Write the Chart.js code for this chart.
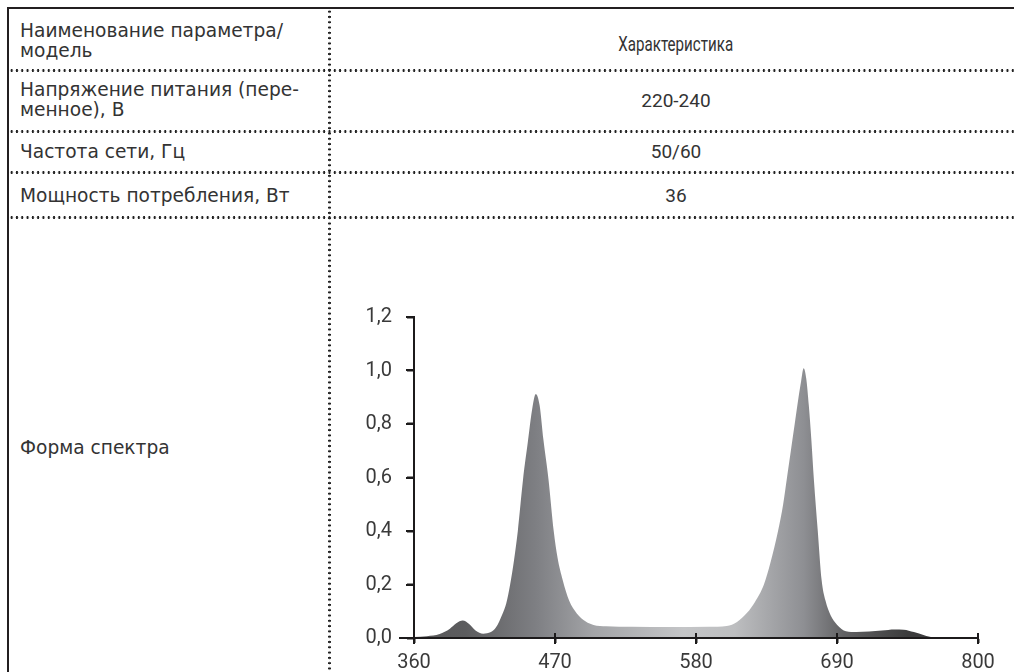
<!DOCTYPE html>
<html lang="ru">
<head>
<meta charset="utf-8">
<title>Форма спектра</title>
<script src="https://cdn.jsdelivr.net/npm/chart.js@4/dist/chart.umd.min.js"></script>
<style>
  html, body { margin: 0; padding: 0; background: #fff; }
  body { width: 1014px; height: 672px; position: relative; overflow: hidden;
         font-family: "DejaVu Sans", Roboto, sans-serif; color: #333; }
  .frame-top { position: absolute; left: 7px; top: 7px; width: 1007px; height: 2px; background: #231f20; }
  .frame-left { position: absolute; left: 7px; top: 7px; width: 2px; height: 665px; background: #231f20; }
  .hdot { position: absolute; left: 9px; width: 1005px; height: 3px;
          background-image: radial-gradient(circle, #222 1.1px, transparent 1.4px);
          background-size: 5.3px 3px; }
  .vdot { position: absolute; left: 328px; top: 9px; width: 3px; height: 663px;
          background-image: radial-gradient(circle, #222 1.1px, transparent 1.4px);
          background-size: 3px 5.3px; }
  .cell { position: absolute; font-size: 18.6px; line-height: 20px; white-space: nowrap; }
  .left { left: 20px; }
  .val { left: 331px; width: 690px; text-align: center; font-family: Roboto, sans-serif; font-size: 19px; }
  .narrow { display: inline-block; font-size: 21px; transform: scaleX(0.72); }
  #chartBox { position: absolute; left: 330px; top: 280px; width: 684px; height: 392px; }
</style>
</head>
<body>
<div class="frame-top"></div>
<div class="frame-left"></div>
<div class="hdot" style="top:69px"></div>
<div class="hdot" style="top:130px"></div>
<div class="hdot" style="top:171px"></div>
<div class="hdot" style="top:216px"></div>
<div class="vdot"></div>

<div class="cell left" style="top:21px">Наименование параметра/<br>модель</div>
<div class="cell val" style="top:34px"><span class="narrow">Характеристика</span></div>
<div class="cell left" style="top:80px">Напряжение питания (пере-<br>менное), В</div>
<div class="cell val" style="top:91px">220-240</div>
<div class="cell left" style="top:142px">Частота сети, Гц</div>
<div class="cell val" style="top:142px">50/60</div>
<div class="cell left" style="top:186px">Мощность потребления, Вт</div>
<div class="cell val" style="top:186px">36</div>
<div class="cell left" style="top:438px">Форма спектра</div>

<div id="chartBox"><canvas id="spectrum"></canvas></div>

<script>
// wavelength, nm
const wavelengths = [360, 370, 380, 388, 393, 398, 403, 408, 414, 420, 424, 429, 432, 435, 438, 441, 445, 449, 452, 455,
  458, 461, 465, 469, 472, 476, 481, 487, 494, 500, 510, 530, 560, 590, 604, 612, 620, 626, 633, 638,
  644, 648, 651, 654, 657, 660, 662, 664, 666, 668, 670, 672, 675, 678, 681, 685, 690, 697, 705, 715,
  725, 735, 742, 750, 758, 765, 780, 800];
// relative intensity
const intensity = [0.004, 0.007, 0.015, 0.035, 0.055, 0.065, 0.052, 0.028, 0.016, 0.022, 0.04, 0.09, 0.13, 0.2, 0.29, 0.4, 0.59, 0.74, 0.85, 0.912,
  0.87, 0.74, 0.59, 0.4, 0.3, 0.217, 0.14, 0.092, 0.062, 0.049, 0.044, 0.042, 0.041, 0.042, 0.045, 0.06, 0.095, 0.135, 0.2, 0.28,
  0.4, 0.5, 0.6, 0.7, 0.8, 0.9, 0.96, 1.008, 0.97, 0.87, 0.74, 0.59, 0.4, 0.217, 0.14, 0.085, 0.05, 0.025, 0.022, 0.024,
  0.028, 0.032, 0.031, 0.022, 0.01, 0.002, 0, 0];

const xTicks = [360, 470, 580, 690, 800];
const yTicks = [0, 0.2, 0.4, 0.6, 0.8, 1.0, 1.2];

// grey shading along the wavelength axis
const shadeStops = [360, 400, 455, 500, 570, 610, 664, 695, 745, 800];
const shadeColors = ['#58585a', '#5c5c5e', '#7e7f83', '#a3a4a7', '#c4c5c7', '#bdbec0', '#8e8f93', '#626264', '#3c3c3d', '#3c3c3d'];

const axisColor = '#1c1a1b';

const pointData = wavelengths.map((w, i) => ({ x: w, y: intensity[i] }));

const fillGradient = (context) => {
  const chart = context.chart;
  const area = chart.chartArea;
  if (!area) return '#999';
  const xs = chart.scales.x;
  const g = chart.ctx.createLinearGradient(area.left, 0, area.right, 0);
  shadeStops.forEach((w, i) => {
    const t = (xs.getPixelForValue(w) - area.left) / (area.right - area.left);
    g.addColorStop(Math.min(1, Math.max(0, t)), shadeColors[i]);
  });
  return g;
};

// axis lines and tick marks drawn as solid 2px bars
const axisMarks = {
  id: 'axisMarks',
  afterDraw(chart) {
    const ctx = chart.ctx;
    const xs = chart.scales.x;
    const ys = chart.scales.y;
    const y0 = Math.round(ys.getPixelForValue(0));
    const x0 = Math.round(xs.getPixelForValue(360));
    const yTop = Math.round(ys.getPixelForValue(1.2));
    const xEnd = Math.round(xs.getPixelForValue(800));
    ctx.save();
    ctx.fillStyle = axisColor;
    // y axis, running a little below the x axis
    ctx.fillRect(x0 - 1, yTop - 1, 2, y0 - yTop + 7);
    // x axis, starting a little left of the y axis
    ctx.fillRect(x0 - 15, y0 - 1, xEnd - x0 + 16, 2);
    // x ticks cross the axis
    xTicks.forEach(v => {
      const px = Math.round(xs.getPixelForValue(v));
      ctx.fillRect(px - 1, y0 - 5, 2, 11);
    });
    // y ticks on the left
    yTicks.forEach(v => {
      const py = Math.round(ys.getPixelForValue(v));
      ctx.fillRect(x0 - 8, py - 1, 8, 2);
    });
    ctx.restore();
  }
};

new Chart(document.getElementById('spectrum'), {
  type: 'line',
  data: {
    datasets: [{
      data: pointData,
      borderWidth: 0,
      pointRadius: 0,
      fill: 'origin',
      backgroundColor: fillGradient,
      tension: 0.4,
      cubicInterpolationMode: 'monotone'
    }]
  },
  options: {
    responsive: true,
    maintainAspectRatio: false,
    animation: false,
    layout: { padding: { top: 37, right: 36, left: 0, bottom: 0 } },
    plugins: { legend: { display: false }, tooltip: { enabled: false } },
    scales: {
      x: {
        type: 'linear',
        min: 360,
        max: 800,
        afterBuildTicks: (scale) => { scale.ticks = xTicks.map(v => ({ value: v })); },
        afterFit: (scale) => { scale.height = 34; },
        grid: { drawOnChartArea: false, drawTicks: true, tickLength: 5, tickColor: axisColor, tickWidth: 2 },
        border: { display: true, color: axisColor, width: 2 },
        ticks: { color: '#3a3a3a', font: { family: 'Roboto', size: 20 }, padding: 8, maxRotation: 0 }
      },
      y: {
        min: 0,
        max: 1.2,
        afterBuildTicks: (scale) => { scale.ticks = yTicks.map(v => ({ value: v })); },
        afterFit: (scale) => { scale.width = 84; },
        grid: { drawOnChartArea: false, drawTicks: true, tickLength: 7, tickColor: axisColor, tickWidth: 2 },
        border: { display: true, color: axisColor, width: 2 },
        ticks: {
          color: '#3a3a3a',
          font: { family: 'Roboto', size: 20 },
          padding: 15,
          callback: (v) => v.toFixed(1).replace('.', ',')
        }
      }
    }
  },
  plugins: [axisMarks]
});
</script>
</body>
</html>
